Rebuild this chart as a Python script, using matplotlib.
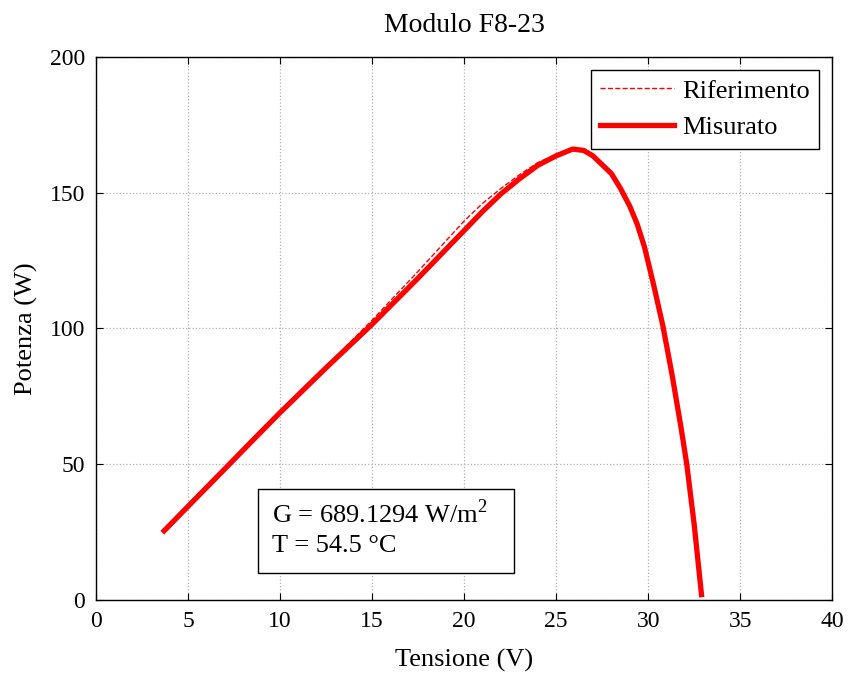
import numpy as np
import matplotlib
matplotlib.use('Agg')
import matplotlib.pyplot as plt
from matplotlib.patches import Rectangle

plt.rcParams['font.family'] = ['Liberation Serif', 'DejaVu Serif']
plt.rcParams['mathtext.fontset'] = 'custom'
plt.rcParams['mathtext.rm'] = 'Liberation Serif'

tensione_mis = [3.7, 5.0, 7.0, 8.5, 10.0, 12.5, 15.0, 17.5, 20.0, 21.0, 22.0, 23.0,
                24.0, 25.0, 25.9, 26.5, 27.0, 28.0, 28.5, 29.0, 29.4, 29.8, 30.3,
                30.8, 31.3, 31.8, 32.1, 32.5, 32.9]
potenza_mis = [25.5, 34.5, 48.3, 58.7, 69.0, 85.5, 101.5, 118.5, 136.0, 143.0, 149.5, 155.0,
               160.0, 163.5, 166.0, 165.5, 163.5, 157.0, 151.5, 145.0, 138.5, 130.0, 116.0,
               101.0, 83.0, 63.0, 50.0, 28.0, 2.0]

# Curva di riferimento
tensione_rif = [3.7, 5.0, 7.0, 8.5, 10.0, 12.5, 15.0, 17.5, 20.0, 21.0, 22.0, 23.0,
                24.0, 25.0, 25.9, 26.5, 27.0, 28.0, 28.5, 29.0, 29.4, 29.8, 30.3,
                30.8, 31.3, 31.8, 32.1, 32.5, 32.9]
potenza_rif = [25.5, 34.5, 48.3, 58.7, 69.0, 86.0, 103.0, 121.0, 139.5, 146.0, 151.5, 156.5,
               161.0, 164.0, 166.0, 165.5, 163.5, 157.0, 151.5, 145.0, 138.5, 130.0, 116.0,
               101.0, 83.0, 63.0, 50.0, 28.0, 2.0]

xticks = [0, 5, 10, 15, 20, 25, 30, 35, 40]
yticks = [0, 50, 100, 150, 200]

fig = plt.figure(figsize=(8.5, 6.75), dpi=100)
ax = fig.add_axes([0.113, 0.111, 0.866, 0.805])

ax.plot(tensione_rif, potenza_rif, color='red', linestyle='--', linewidth=1.0,
        label='Riferimento', zorder=3)
ax.plot(tensione_mis, potenza_mis, color='red', linestyle='-', linewidth=3.8,
        label='Misurato', zorder=2, solid_joinstyle='round')

ax.set_xlim(0, 40)
ax.set_ylim(0, 200)
ax.set_xticks(xticks)
ax.set_yticks(yticks)
ax.tick_params(direction='in', top=True, right=True, labelsize=17, length=5, pad=8)
ax.grid(True, linestyle=':', color='#b0b0b0', linewidth=0.9)
for s in ax.spines.values():
    s.set_linewidth(1.0)

ax.set_xlabel('Tensione (V)', fontsize=19, labelpad=12)
ax.set_ylabel('Potenza (W)', fontsize=19, labelpad=8)
ax.set_title('Modulo F8-23', fontsize=20, pad=18)

leg = ax.legend(loc='upper right', fontsize=19, fancybox=False, framealpha=1,
                edgecolor='black', handlelength=2.8, borderaxespad=0.5,
                borderpad=0.35, labelspacing=0.5, handletextpad=0.3)
leg.get_frame().set_linewidth(1.0)

# Riquadro con G e T
ax.add_patch(Rectangle((0.220, 0.050), 0.348, 0.155, transform=ax.transAxes,
                       facecolor='white', edgecolor='black', linewidth=1.0, zorder=4))
ax.text(0.239, 0.160, 'G = 689.1294 W/m$^2$', transform=ax.transAxes,
        fontsize=19, va='center', ha='left', zorder=5)
ax.text(0.239, 0.099, 'T = 54.5 °C', transform=ax.transAxes,
        fontsize=19, va='center', ha='left', zorder=5)

plt.savefig('out.png', dpi=100, facecolor='white')
plt.close()
